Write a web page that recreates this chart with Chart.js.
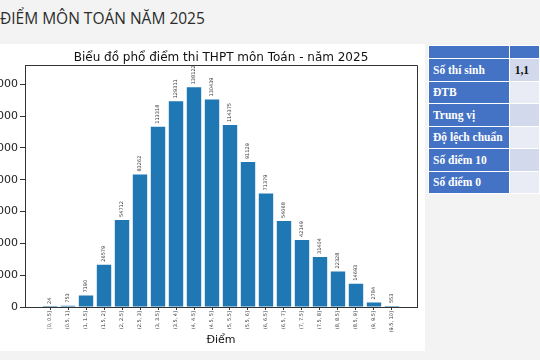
<!DOCTYPE html>
<html>
<head>
<meta charset="utf-8">
<script src="https://cdn.jsdelivr.net/npm/chart.js@4/dist/chart.umd.min.js"></script>
<style>
  html, body { margin:0; padding:0; }
  body { width:540px; height:360px; overflow:hidden; background:#f3f3f3; position:relative; font-family:"DejaVu Sans", sans-serif; }
  #pageTitle { position:absolute; left:0; top:7px; font-family:"Open Sans", sans-serif; font-size:15.5px; color:#2b2b2b; white-space:nowrap; }
  #panel { position:absolute; left:0; top:44px; width:425px; height:307px; background:#fff; overflow:hidden; }
  #wrap { position:absolute; left:-40px; top:0; width:522px; height:308px; }
  #tbl { position:absolute; left:428px; top:45px; border-collapse:collapse; font-family:"Liberation Serif", serif; font-weight:bold; font-size:11.5px; }
  #tbl td { border:1px solid #fff; padding:0 0 0 4px; height:21.5px; white-space:nowrap; }
  #tbl tr.h td { height:12px; background:#4472c4; }
  #tbl td.l { background:#4472c4; color:#fff; width:85px; }
  #tbl td.v { width:40px; color:#111; padding-left:5px; }
  #tbl tr.a td.v { background:#d3d9ec; }
  #tbl tr.b td.v { background:#e9ecf5; }
</style>
</head>
<body>
<div id="pageTitle">ĐIỂM MÔN TOÁN NĂM 2025</div>
<div id="panel"><div id="wrap"><canvas id="c"></canvas></div></div>
<table id="tbl">
  <tr class="h"><td class="l"></td><td class="v" style="background:#4472c4"></td></tr>
  <tr class="a"><td class="l">Số thí sinh</td><td class="v">1,1</td></tr>
  <tr class="b"><td class="l">ĐTB</td><td class="v"></td></tr>
  <tr class="a"><td class="l">Trung vị</td><td class="v"></td></tr>
  <tr class="b"><td class="l">Độ lệch chuẩn</td><td class="v"></td></tr>
  <tr class="a"><td class="l">Số điểm 10</td><td class="v"></td></tr>
  <tr class="b"><td class="l">Số điểm 0</td><td class="v"></td></tr>
</table>
<script>
const categories = ["[0, 0.5]","(0.5, 1]","(1, 1.5]","(1.5, 2]","(2, 2.5]","(2.5, 3]","(3, 3.5]","(3.5, 4]","(4, 4.5]","(4.5, 5]","(5, 5.5]","(5.5, 6]","(6, 6.5]","(6.5, 7]","(7, 7.5]","(7.5, 8]","(8, 8.5]","(8.5, 9]","(9, 9.5]","(9.5, 10]"];
const counts = [24, 753, 7190, 26579, 54712, 83262, 113318, 129311, 138122, 130439, 114375, 91129, 71379, 54068, 42149, 31404, 22328, 14693, 2784, 553];
const yTicks = [0, 20000, 40000, 60000, 80000, 100000, 120000, 140000];
const chartTitle = "Biểu đồ phổ điểm thi THPT môn Toán - năm 2025";
const xTitle = "Điểm";

const barLabels = {
  id: 'barLabels',
  afterDatasetsDraw(chart) {
    const ctx = chart.ctx;
    const meta = chart.getDatasetMeta(0);
    ctx.save();
    ctx.font = '5px "DejaVu Sans"';
    ctx.fillStyle = '#333';
    ctx.textAlign = 'left';
    ctx.textBaseline = 'middle';
    meta.data.forEach((el, i) => {
      ctx.save();
      ctx.translate(el.x, el.y - 3);
      ctx.rotate(-Math.PI / 2);
      ctx.fillText(String(counts[i]), 0, 0);
      ctx.restore();
    });
    ctx.restore();
  }
};
const frame = {
  id: 'frame',
  afterDraw(chart) {
    const {left, right, top, bottom} = chart.chartArea;
    const ctx = chart.ctx;
    ctx.save();
    ctx.strokeStyle = '#333';
    ctx.lineWidth = 1;
    ctx.beginPath();
    ctx.moveTo(Math.round(left) + 0.5, Math.round(top) + 0.5);
    ctx.lineTo(Math.round(right) + 0.5, Math.round(top) + 0.5);
    ctx.lineTo(Math.round(right) + 0.5, Math.round(bottom) + 0.5);
    ctx.stroke();
    ctx.restore();
  }
};

new Chart(document.getElementById('c'), {
  type: 'bar',
  data: {
    datasets: [{
      data: counts.map((v, i) => ({x: i, y: v})),
      backgroundColor: '#1f77b4',
      borderWidth: 0,
      categoryPercentage: 1,
      barPercentage: 0.8
    }]
  },
  options: {
    responsive: true,
    maintainAspectRatio: false,
    animation: false,
    layout: { padding: 0 },
    plugins: {
      legend: { display: false },
      tooltip: { enabled: false },
      title: {
        display: true, text: chartTitle, color: '#111',
        font: { family: 'DejaVu Sans', size: 12, weight: 'normal', lineHeight: 1.2 },
        padding: { top: 6.5, bottom: 0.5 }
      }
    },
    scales: {
      x: {
        type: 'linear', offset: false, min: -1.39, max: 20.39,
        grid: { display: true, drawOnChartArea: false, offset: false, tickLength: 3, color: '#333' },
        border: { display: true, color: '#333', width: 1 },
        afterBuildTicks(scale) { scale.ticks = categories.map((c, i) => ({ value: i })); },
        afterFit(scale) { scale.height = 45; },
        ticks: {
          autoSkip: false, minRotation: 90, maxRotation: 90, padding: 1,
          color: '#333', font: { family: 'DejaVu Sans', size: 5 },
          callback: (v) => categories[v]
        },
        title: { display: true, text: xTitle, color: '#111', font: { family: 'DejaVu Sans', size: 11 }, padding: { top: 0, bottom: 5.4 } }
      },
      y: {
        min: 0, max: 151900,
        grid: { display: true, drawOnChartArea: false, tickLength: 5, color: '#333' },
        border: { display: true, color: '#333', width: 1 },
        afterBuildTicks(scale) { scale.ticks = yTicks.map(v => ({ value: v })); },
        afterFit(scale) { scale.width = 65; },
        ticks: { padding: 2, color: '#222', font: { family: 'DejaVu Sans', size: 11 }, callback: (v) => String(v) }
      },
      yR: {
        position: 'right', display: true,
        grid: { display: false }, border: { display: false },
        ticks: { display: false },
        afterFit(scale) { scale.width = 65; }
      }
    }
  },
  plugins: [barLabels, frame]
});
</script>
</body>
</html>
